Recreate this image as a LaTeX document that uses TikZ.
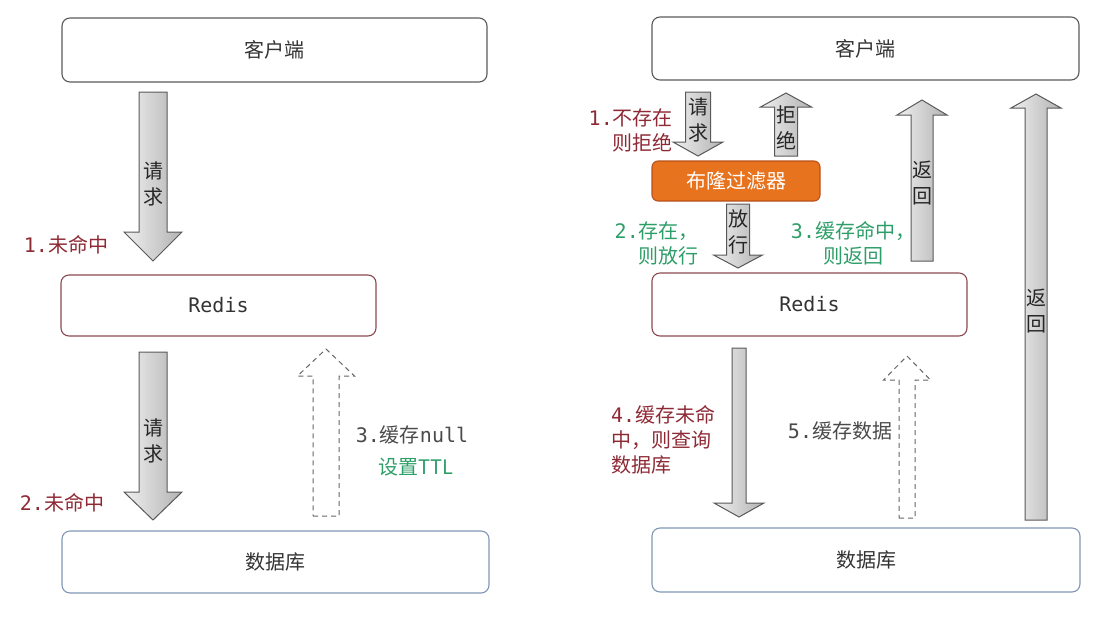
\documentclass[tikz,border=0pt]{standalone}
\usepackage{fontspec}
\setmainfont{Noto Sans CJK SC}
\newfontfamily\mono{DejaVu Sans Mono}
\usetikzlibrary{positioning}
\definecolor{missred}{HTML}{8E2A35}
\definecolor{okgreen}{HTML}{2E9E68}
\definecolor{notegray}{HTML}{4A4A4A}
\definecolor{clientline}{HTML}{5A5A5A}
\definecolor{redisline}{HTML}{8A4A52}
\definecolor{dbline}{HTML}{8096B4}
\definecolor{bloomfill}{HTML}{E8731E}
\definecolor{bloomline}{HTML}{B8521A}

\begin{document}
\begin{tikzpicture}[x=1pt,y=-1pt,
  box/.style={draw,rounded corners=8pt,line width=1.1pt,text=black!80,inner sep=0pt,font=\fontsize{20}{24}\selectfont},
  blk/.style={draw=black!65,line width=1pt,left color=black!6,right color=black!30},
  dsh/.style={draw=black!60,line width=1pt,dash pattern=on 5pt off 4pt,fill=white},
  intxt/.style={align=center,inner sep=0pt,text=black!85,font=\fontsize{20}{26}\selectfont},
  note/.style={align=left,inner sep=0pt,font=\fontsize{20}{25}\selectfont}]
  \useasboundingbox (0,0) rectangle (1117,619);

  % left: plain cache
  \node[box,draw=clientline,minimum width=425,minimum height=64] (client1) at (274.5,50) {客户端};
  \node[box,draw=redisline,minimum width=315,minimum height=61] (redis1) at (218.5,305.5) {\mono Redis};
  \node[box,draw=dbline,minimum width=427,minimum height=62] (db1) at (275.5,562) {数据库};

  % right: with bloom filter
  \node[box,draw=clientline,minimum width=427,minimum height=63] (client2) at (865.5,48.5) {客户端};
  \node[box,draw=bloomline,fill=bloomfill,text=white,rounded corners=6pt,minimum width=168,minimum height=40] (bloom) at (736,181) {布隆过滤器};
  \node[box,draw=redisline,minimum width=315,minimum height=63] (redis2) at (809.5,304.5) {\mono Redis};
  \node[box,draw=dbline,minimum width=428,minimum height=64] (db2) at (866,560) {数据库};

  % block arrows: x / start / head base / tip / half shaft / half head
  \foreach \x/\a/\b/\c/\s/\h in {153/92/232/261/14/29, 153/352/492/520/14/29,
      698/92/142/156/12.5/25, 786/156/107/93/11.5/25.5, 738/204/255/268/11.5/24.5,
      922/261/115/100/11/25, 1036/520/108/94/11/25, 739/348/503/517/7/25}
    \draw[blk] (\x-\s,\a) -- (\x+\s,\a) -- (\x+\s,\b) -- (\x+\h,\b) -- (\x,\c)
      -- (\x-\h,\b) -- (\x-\s,\b) -- cycle;
  \foreach \x/\a/\b/\c/\s/\h in {326/516/376/349/13/28.5, 907/518/380/356/8/23.5}
    \draw[dsh] (\x-\s,\a) -- (\x+\s,\a) -- (\x+\s,\b) -- (\x+\h,\b) -- (\x,\c)
      -- (\x-\h,\b) -- (\x-\s,\b) -- cycle;

  \node[intxt] (req1) at (153,184) {请\\求};
  \node[intxt] (req2) at (153,441) {请\\求};
  \node[intxt] (req3) at (698,120) {请\\求};
  \node[intxt] (deny) at (786,128) {拒\\绝};
  \node[intxt] (let)  at (738,232) {放\\行};
  \node[intxt] (back1) at (922,183) {返\\回};
  \node[intxt] (back2) at (1036,311) {返\\回};

  % step labels
  \node[note,text=missred] (miss1) at (66,245) {{\mono 1.}未命中};
  \node[note,text=missred] (miss2) at (62,503) {{\mono 2.}未命中};
  \node[note,text=notegray] (setnull) at (412,435) {{\mono 3.}缓存{\mono null}};
  \node[note,text=okgreen] (setttl) at (416,467) {设置TTL};
  \node[note,text=missred,align=right,anchor=east] (reject) at (673,130) {{\mono 1.}不存在\\则拒绝};
  \node[note,text=okgreen,align=right,anchor=east] (pass) at (699,243) {{\mono 2.}存在，\\则放行};
  \node[note,text=okgreen,align=center] (hit) at (853,243) {{\mono 3.}缓存命中，\\则返回};
  \node[note,text=missred,anchor=west] (query) at (611,440) {{\mono 4.}缓存未命\\中，则查询\\数据库};
  \node[note,text=notegray] (store) at (840,431) {{\mono 5.}缓存数据};
\end{tikzpicture}
\end{document}
